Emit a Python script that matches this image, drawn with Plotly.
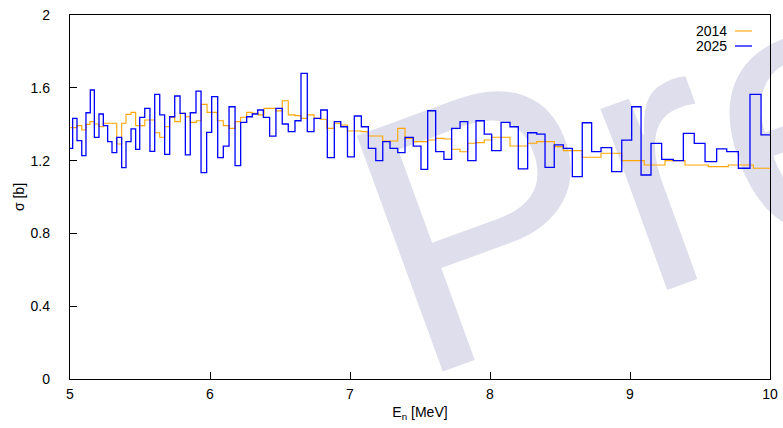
import plotly.graph_objects as go

# 2014 evaluation: group boundaries (MeV) and cross sections (b)
e2014 = [5.000, 5.048, 5.084, 5.114, 5.143, 5.174, 5.207, 5.238, 5.334, 5.369,
         5.400, 5.436, 5.469, 5.534, 5.605, 5.641, 5.676, 5.712, 5.748, 5.788,
         5.824, 5.859, 5.902, 5.938, 5.979, 6.052, 6.095, 6.136, 6.179, 6.219,
         6.262, 6.302, 6.345, 6.386, 6.471, 6.516, 6.559, 6.607, 6.650, 6.695,
         6.743, 6.786, 6.834, 6.886, 6.934, 6.981, 7.031, 7.081, 7.131, 7.184,
         7.234, 7.286, 7.341, 7.393, 7.452, 7.507, 7.555, 7.612, 7.671, 7.726,
         7.786, 7.841, 7.900, 7.959, 8.012, 8.143, 8.269, 8.334, 8.459, 8.524,
         8.659, 8.793, 8.941, 9.102, 9.250, 9.393, 9.559, 9.702, 9.881, 10.000]
s2014 = [1.381, 1.392, 1.368, 1.399, 1.414, 1.401, 1.386, 1.405, 1.291, 1.405,
         1.454, 1.465, 1.392, 1.423, 1.353, 1.328, 1.386, 1.438, 1.414, 1.460,
         1.441, 1.410, 1.419, 1.509, 1.465, 1.419, 1.392, 1.377, 1.414, 1.438,
         1.465, 1.460, 1.451, 1.487, 1.473, 1.529, 1.451, 1.447, 1.432, 1.451,
         1.432, 1.427, 1.377, 1.405, 1.396, 1.363, 1.363, 1.359, 1.335, 1.335,
         1.308, 1.308, 1.377, 1.322, 1.304, 1.304, 1.313, 1.322, 1.319, 1.262,
         1.249, 1.295, 1.299, 1.313, 1.328, 1.280, 1.295, 1.304, 1.277, 1.255,
         1.218, 1.240, 1.200, 1.176, 1.200, 1.176, 1.167, 1.176, 1.158]

# 2025 evaluation: group boundaries (MeV) and cross sections (b)
e2025 = [5.000, 5.019, 5.050, 5.084, 5.114, 5.145, 5.174, 5.207, 5.238, 5.269,
         5.300, 5.334, 5.369, 5.400, 5.436, 5.469, 5.498, 5.534, 5.571, 5.605,
         5.641, 5.676, 5.712, 5.748, 5.786, 5.824, 5.859, 5.900, 5.936, 5.976,
         6.012, 6.055, 6.095, 6.136, 6.179, 6.219, 6.262, 6.302, 6.341, 6.381,
         6.426, 6.471, 6.516, 6.559, 6.607, 6.650, 6.695, 6.743, 6.791, 6.838,
         6.888, 6.934, 6.982, 7.031, 7.081, 7.131, 7.184, 7.234, 7.286, 7.341,
         7.393, 7.452, 7.507, 7.555, 7.612, 7.671, 7.726, 7.786, 7.841, 7.900,
         7.959, 8.012, 8.079, 8.143, 8.202, 8.269, 8.334, 8.393, 8.459, 8.524,
         8.588, 8.659, 8.726, 8.793, 8.869, 8.941, 9.012, 9.079, 9.150, 9.226,
         9.309, 9.381, 9.459, 9.536, 9.619, 9.691, 9.774, 9.857, 9.936, 10.000]
s2025 = [1.267, 1.432, 1.310, 1.227, 1.463, 1.588, 1.328, 1.456, 1.392, 1.304,
         1.244, 1.328, 1.161, 1.304, 1.374, 1.262, 1.438, 1.487, 1.251, 1.564,
         1.451, 1.234, 1.441, 1.555, 1.460, 1.231, 1.463, 1.582, 1.134,
         1.355, 1.551, 1.216, 1.280, 1.496, 1.172, 1.410, 1.441, 1.456, 1.478,
         1.438, 1.335, 1.487, 1.401, 1.359, 1.419, 1.679, 1.359, 1.432, 1.478,
         1.216, 1.414, 1.386, 1.220, 1.445, 1.386, 1.267, 1.200, 1.304, 1.267,
         1.244, 1.328, 1.280, 1.152, 1.474, 1.249, 1.207, 1.377, 1.414, 1.200,
         1.419, 1.346,
         1.255, 1.410, 1.386, 1.154, 1.353, 1.346, 1.163, 1.286, 1.267, 1.112,
         1.408, 1.249, 1.271, 1.139, 1.313,
         1.496, 1.121, 1.295, 1.207, 1.200, 1.350, 1.295, 1.194, 1.264, 1.249,
         1.158, 1.564, 1.341]

series = [("2014", e2014, s2014, "#ffa500", 1.1),
          ("2025", e2025, s2025, "#0000ff", 1.3)]

y_ticks = [0, 0.4, 0.8, 1.2, 1.6, 2]
y_tick_text = ["0", "0.4", "0.8", "1.2", "1.6", "2"]
x_ticks = [5, 6, 7, 8, 9, 10]

FONT = "Liberation Sans, Arial, Helvetica, sans-serif"

fig = go.Figure()
for name, edges, sigma, color, width in series:
    # histogram steps: each value holds until the next group boundary
    fig.add_trace(go.Scatter(
        x=edges, y=list(sigma) + [sigma[-1]], name=name, mode="lines",
        line=dict(color=color, width=width, shape="hv"), showlegend=False))

W, H = 783, 428
ML, MR, MT, MB = 70, 13, 15, 49
pw, ph = W - ML - MR, H - MT - MB


def px_to_paper(px, py):
    return (px - ML) / pw, (H - MB - py) / ph


# Watermark behind the curves
wx, wy = px_to_paper(427, 424)
fig.add_shape(type="rect", xref="paper", yref="paper",
              x0=wx, x1=wx + 0.2, y0=wy, y1=wy + 0.2,
              line=dict(width=0), fillcolor="rgba(0,0,0,0)", layer="below",
              label=dict(text="Preliminary", textangle=-20,
                         textposition="bottom left", xanchor="left",
                         yanchor="bottom", padding=0,
                         font=dict(family=FONT, size=365,
                                   color="rgb(222,222,236)")))

# Key in the upper right corner: label followed by a line sample
for i, (name, _, _, color, width) in enumerate(series):
    ty = 31 + 15 * i
    ax, ay = px_to_paper(728, ty)
    fig.add_annotation(x=ax, y=ay, xref="paper", yref="paper", text=name,
                       showarrow=False, xanchor="right", yanchor="middle",
                       height=14, valign="middle", borderpad=0,
                       font=dict(family=FONT, size=14, color="black"))
    sx0, sy = px_to_paper(735, ty)
    sx1, _ = px_to_paper(752, ty)
    fig.add_shape(type="line", xref="paper", yref="paper",
                  x0=sx0, x1=sx1, y0=sy, y1=sy,
                  line=dict(color=color, width=width))

axis_common = dict(showline=True, linecolor="black", linewidth=1.3,
                   mirror=True, ticks="inside", ticklen=7, tickcolor="black",
                   tickwidth=1, showgrid=False, zeroline=False,
                   automargin=False,
                   tickfont=dict(family=FONT, size=14, color="black"))

fig.update_xaxes(range=[5, 10], tickvals=x_ticks, ticklabelstandoff=2,
                 title=dict(text="E<sub>n</sub> [MeV]", standoff=6,
                            font=dict(family=FONT, size=14, color="black")),
                 **axis_common)
fig.update_yaxes(range=[0, 2], tickvals=y_ticks, ticktext=y_tick_text,
                 ticklabelstandoff=16,
                 title=dict(text="σ [b]", standoff=2,
                            font=dict(family=FONT, size=14, color="black")),
                 **axis_common)

fig.update_layout(width=W, height=H,
                  margin=dict(l=ML, r=MR, t=MT, b=MB, pad=0, autoexpand=False),
                  paper_bgcolor="white", plot_bgcolor="rgba(0,0,0,0)",
                  showlegend=False)

fig.write_html("out.html")
